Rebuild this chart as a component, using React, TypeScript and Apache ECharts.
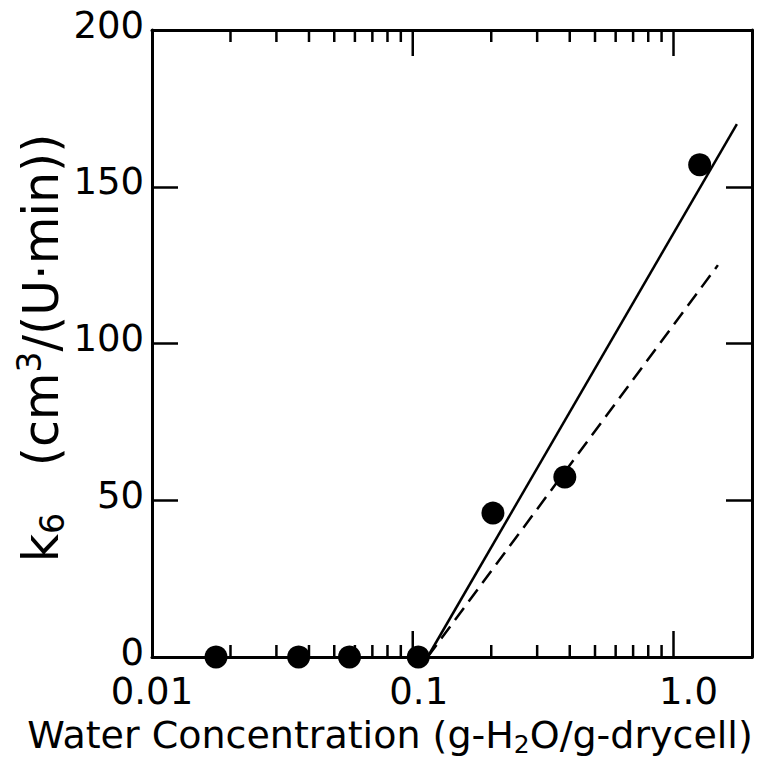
import React, { useEffect, useRef } from 'react';
import * as echarts from 'echarts';

// Axis ranges and tick values
const xRange = [0.01, 2];
const yRange = [0, 200];
const xLabelValues = [0.01, 0.1, 1];
const xMajorTicks = [0.1, 1];
const xMinorTicks = [0.02, 0.03, 0.04, 0.05, 0.06, 0.07, 0.08, 0.09, 0.2, 0.3, 0.4, 0.5, 0.6, 0.7, 0.8, 0.9];
const yTickStep = 50;

// Measured points
const waterConc = [0.0176, 0.0365, 0.0572, 0.105, 0.203, 0.383, 1.26];
const k6Values = [0, 0, 0, 0, 45.9, 57.4, 157];

// Fitted lines (two end points each)
const solidFitX = [0.114, 1.75];
const solidFitY = [0, 170];
const dashedFitX = [0.114, 1.48];
const dashedFitY = [0, 125];

const xTitle = 'Water Concentration (g-H{sub|2}O/g-drycell)';
const yTitle = 'k{sub|6}   (cm{sup|3}/(U·min))';

const FONT = 'DejaVu Sans';

export default function App() {
  const ref = useRef<HTMLDivElement>(null);
  useEffect(() => {
    if (!ref.current) return;
    const chart = echarts.init(ref.current, null, { renderer: 'svg' });
    const black = '#000';
    const labelFont = { fontFamily: FONT, fontSize: 37, color: black };

    // tick lengths in y-axis units (plot is 627 px tall for 200 units)
    const unitsPerPx = (yRange[1] - yRange[0]) / 627;
    const majorLen = 26 * unitsPerPx;
    const minorLen = 12 * unitsPerPx;
    const tickSegments: any[] = [];
    const addTick = (v: number, len: number) => {
      tickSegments.push([v, yRange[0]], [v, yRange[0] + len], [v, null]);
      tickSegments.push([v, yRange[1]], [v, yRange[1] - len], [v, null]);
    };
    xMajorTicks.forEach((v) => addTick(v, majorLen));
    xMinorTicks.forEach((v) => addTick(v, minorLen));

    chart.setOption({
      animation: false,
      backgroundColor: '#fff',
      grid: { left: 152, right: 7, top: 30, bottom: 109 },
      xAxis: [
        {
          type: 'log',
          min: xRange[0],
          max: xRange[1],
          position: 'bottom',
          splitLine: { show: false },
          axisLine: { show: true, onZero: false, lineStyle: { color: black, width: 3 } },
          axisTick: { show: false },
          axisLabel: {
            show: true,
            customValues: xLabelValues,
            formatter: (v: number) => {
              if (Math.abs(v - 1) < 1e-9) return '{one|1.0}';
              if (Math.abs(v - 0.1) < 1e-9) return '{tenth|0.1}';
              return String(+v.toPrecision(3));
            },
            ...labelFont,
            lineHeight: 30,
            margin: 19,
            rich: {
              one: { ...labelFont, lineHeight: 30, padding: [0, 0, 0, 30] },
              tenth: { ...labelFont, lineHeight: 30, padding: [0, 0, 0, 12] },
            },
          },
        },
        {
          type: 'log',
          min: xRange[0],
          max: xRange[1],
          position: 'top',
          splitLine: { show: false },
          axisLine: { show: true, onZero: false, lineStyle: { color: black, width: 3 } },
          axisTick: { show: false },
          axisLabel: { show: false },
        },
      ],
      yAxis: [
        {
          type: 'value',
          position: 'left',
          min: yRange[0],
          max: yRange[1],
          interval: yTickStep,
          splitLine: { show: false },
          axisLine: { show: true, onZero: false, lineStyle: { color: black, width: 3 } },
          axisTick: { show: true, inside: true, length: 26, lineStyle: { color: black, width: 2.5 } },
          axisLabel: { ...labelFont, lineHeight: 10, verticalAlign: 'bottom', margin: 8 },
        },
        {
          type: 'value',
          position: 'right',
          min: yRange[0],
          max: yRange[1],
          interval: yTickStep,
          splitLine: { show: false },
          axisLine: { show: true, onZero: false, lineStyle: { color: black, width: 3 } },
          axisTick: { show: true, inside: true, length: 26, lineStyle: { color: black, width: 2.5 } },
          axisLabel: { show: false },
        },
      ],
      graphic: {
        elements: [
          {
            type: 'text',
            x: 390,
            y: 735,
            style: {
              text: xTitle,
              fontFamily: FONT,
              fontSize: 38,
              lineHeight: 44,
              fill: black,
              align: 'center',
              verticalAlign: 'middle',
              rich: {
                sub: { fontFamily: FONT, fontSize: 25, lineHeight: 25, verticalAlign: 'bottom', fill: black },
              },
            },
          },
          {
            type: 'text',
            x: 41,
            y: 348,
            rotation: Math.PI / 2,
            style: {
              text: yTitle,
              fontFamily: FONT,
              fontSize: 49,
              lineHeight: 56,
              fill: black,
              align: 'center',
              verticalAlign: 'middle',
              rich: {
                sub: { fontFamily: FONT, fontSize: 33, lineHeight: 33, verticalAlign: 'bottom', fill: black },
                sup: { fontFamily: FONT, fontSize: 33, lineHeight: 33, verticalAlign: 'top', fill: black },
              },
            },
          },
        ],
      },
      series: [
        {
          type: 'scatter',
          data: waterConc.map((x, i) => [x, k6Values[i]]),
          symbol: 'circle',
          symbolSize: 23,
          itemStyle: { color: black, opacity: 1 },
          z: 4,
        },
        {
          type: 'line',
          data: solidFitX.map((x, i) => [x, solidFitY[i]]),
          symbol: 'none',
          lineStyle: { color: black, width: 2.5 },
          z: 3,
        },
        {
          type: 'line',
          data: dashedFitX.map((x, i) => [x, dashedFitY[i]]),
          symbol: 'none',
          lineStyle: { color: black, width: 2.5, type: [15, 8] },
          z: 3,
        },
        {
          type: 'line',
          data: tickSegments,
          symbol: 'none',
          showSymbol: false,
          connectNulls: false,
          lineStyle: { color: black, width: 2.5 },
          z: 2,
        },
      ],
    });

    return () => chart.dispose();
  }, []);
  return (
    <div
      ref={ref}
      style={{ position: 'fixed', left: 0, top: 0, width: 759, height: 766, background: '#fff' }}
    />
  );
}
